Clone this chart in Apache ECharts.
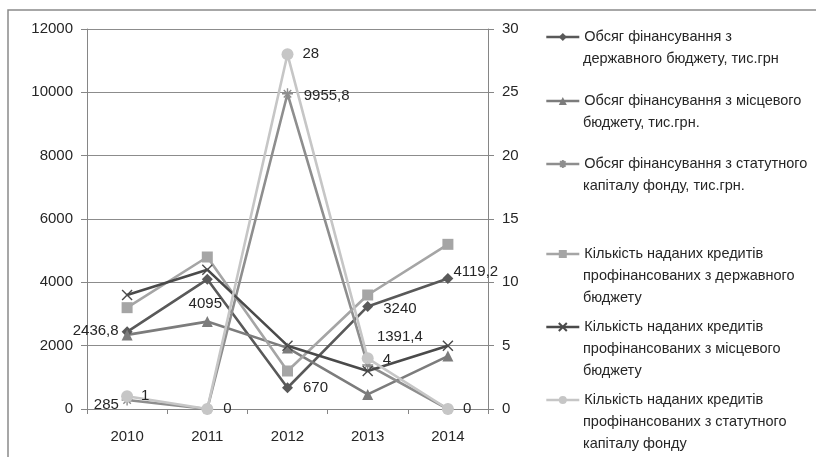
<!DOCTYPE html>
<html>
<head>
<meta charset="utf-8">
<script src="https://cdn.jsdelivr.net/npm/echarts@6/dist/echarts.min.js"></script>
<style>
    html, body {margin: 0; padding: 0; background: #fff;}
    #chart {width: 816px; height: 457px;}
</style>
</head>
<body>
<div id="chart"></div>
<script>
// роки
var years = ['2010', '2011', '2012', '2013', '2014'];
// обсяг фінансування, тис.грн (ліва вісь)
var stateBudget = [2436.8, 4095, 670, 3240, 4119.2];
var localBudget = [2340, 2760, 1930, 460, 1670];
var fundCapital = [285, 0, 9955.8, 1391.4, 0];
// кількість кредитів (права вісь)
var creditsState = [8, 12, 3, 9, 13];
var creditsLocal = [9, 11, 5, 3, 5];
var creditsFund = [1, 0, 28, 4, 0];

var leftTicks = [0, 2000, 4000, 6000, 8000, 10000, 12000];
var rightTicks = [0, 5, 10, 15, 20, 25, 30];

var names = [
    ['Обсяг фінансування з', 'державного бюджету, тис.грн'],
    ['Обсяг фінансування з місцевого', 'бюджету, тис.грн.'],
    ['Обсяг фінансування з статутного', 'капіталу фонду, тис.грн.'],
    ['Кількість наданих кредитів', 'профінансованих з державного', 'бюджету'],
    ['Кількість наданих кредитів', 'профінансованих з місцевого', 'бюджету'],
    ['Кількість наданих кредитів', 'профінансованих з статутного', 'капіталу фонду']
];
var legendY = [37, 101, 164, 254, 327, 400];
var lineGap = 21.8;

var font = 'Liberation Sans';
var txt = '#262626';

function fmt(v) {
    return String(v).replace('.', ',');
}

// підписи точок: [позиція, відстань, зсув] або null
function withLabels(values, labels) {
    return values.map(function (v, i) {
        var l = labels[i];
        if (!l) return {value: v, label: {show: false}};
        return {
            value: v,
            label: {show: true, position: l[0], distance: l[1], offset: l[2] || [0, 0]}
        };
    });
}

var asterisk = 'path://M5,0L5,10M0,5L10,5M1.6,1.6L8.4,8.4M8.4,1.6L1.6,8.4';
var cross = 'path://M0,0L10,10M10,0L0,10';

function makeSeries(idx, data, yAxis, color, symbol, size, stroke) {
    return {
        name: names[idx].join(' '),
        type: 'line',
        yAxisIndex: yAxis,
        data: data,
        symbol: symbol,
        symbolSize: size,
        lineStyle: {color: color, width: 2.6},
        itemStyle: stroke ? {color: color, borderColor: color, borderWidth: 1.4} : {color: color},
        label: {
            show: true,
            color: txt,
            fontFamily: font,
            fontSize: 15,
            formatter: function (p) { return fmt(p.value); }
        },
        emphasis: {disabled: true},
        animation: false
    };
}

var colors = ['#595959', '#7c7c7c', '#8e8e8e', '#a5a5a5', '#4a4a4a', '#c6c6c6'];

var series = [
    makeSeries(0, withLabels(stateBudget, [
        ['left', 3, [0, -1]], ['bottom', 12, [-2, 0]], ['right', 10], ['right', 10, [0, 2]], ['right', 0, [0, -7]]
    ]), 0, colors[0], 'diamond', 11),
    makeSeries(1, withLabels(localBudget, []), 0, colors[1], 'triangle', 11),
    makeSeries(2, withLabels(fundCapital, [
        ['left', 2, [0, 5]], null, ['right', 10, [0, 2]], ['right', 3, [0, -28]], null
    ]), 0, colors[2], asterisk, 11, true),
    makeSeries(3, withLabels(creditsState, []), 1, colors[3], 'rect', 11),
    makeSeries(4, withLabels(creditsLocal, []), 1, colors[4], cross, 10, true),
    makeSeries(5, withLabels(creditsFund, [
        ['right', 8], ['right', 10], ['right', 9], ['right', 9, [0, 2]], ['right', 9]
    ]), 1, colors[5], 'circle', 12)
];

var legends = names.map(function (n, i) {
    return {
        data: [n.join(' ')],
        left: 545,
        top: legendY[i] - 8,
        padding: 0,
        itemWidth: 33,
        itemHeight: 10,
        selectedMode: false,
        lineStyle: {width: 2.6},
        textStyle: {color: txt, fontFamily: font, fontSize: 14.5, lineHeight: 16},
        formatter: function () { return n[0]; }
    };
});

var graphics = [{
    type: 'rect',
    shape: {x: 8, y: 10, width: 830, height: 470},
    style: {fill: 'none', stroke: '#8a8a8a', lineWidth: 1.5},
    silent: true
}];
names.forEach(function (n, i) {
    for (var k = 1; k < n.length; k++) {
        graphics.push({
            type: 'text',
            x: 583,
            y: legendY[i] + k * lineGap,
            style: {text: n[k], fill: txt, font: '14.5px "' + font + '"', verticalAlign: 'middle'},
            silent: true
        });
    }
});

var chart = echarts.init(document.getElementById('chart'));
chart.setOption({
    backgroundColor: '#fff',
    animation: false,
    grid: {left: 87, right: 328, top: 29, bottom: 48},
    legend: legends,
    graphic: graphics,
    xAxis: {
        type: 'category',
        data: years,
        boundaryGap: true,
        axisLine: {lineStyle: {color: '#868686', width: 1}},
        axisTick: {show: true, length: 5, lineStyle: {color: '#868686'}},
        axisLabel: {color: txt, fontFamily: font, fontSize: 15, margin: 20}
    },
    yAxis: [{
        type: 'value',
        min: leftTicks[0],
        max: leftTicks[leftTicks.length - 1],
        interval: leftTicks[1] - leftTicks[0],
        axisLine: {show: true, lineStyle: {color: '#868686'}},
        axisTick: {show: true, length: 6, lineStyle: {color: '#868686'}},
        axisLabel: {color: txt, fontFamily: font, fontSize: 15, margin: 14, formatter: function (v) { return String(v); }},
        splitLine: {lineStyle: {color: '#8c8c8c', width: 1}}
    }, {
        type: 'value',
        min: rightTicks[0],
        max: rightTicks[rightTicks.length - 1],
        interval: rightTicks[1] - rightTicks[0],
        axisLine: {show: true, lineStyle: {color: '#868686'}},
        axisTick: {show: true, length: 6, lineStyle: {color: '#868686'}},
        axisLabel: {color: txt, fontFamily: font, fontSize: 15, margin: 14},
        splitLine: {show: false}
    }],
    series: series
});
</script>
</body>
</html>
